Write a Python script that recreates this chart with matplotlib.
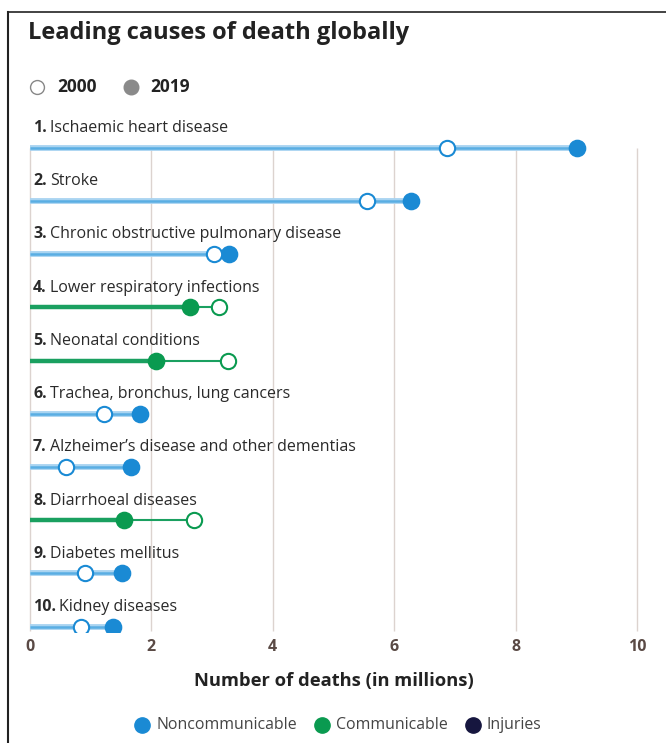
import matplotlib.pyplot as plt
from matplotlib.lines import Line2D
import numpy as np

plt.rcParams['font.family'] = ['Open Sans', 'DejaVu Sans']

causes = ["Ischaemic heart disease", "Stroke",
          "Chronic obstructive pulmonary disease",
          "Lower respiratory infections", "Neonatal conditions",
          "Trachea, bronchus, lung cancers",
          "Alzheimer\u2019s disease and other dementias",
          "Diarrhoeal diseases", "Diabetes mellitus", "Kidney diseases"]
deaths_2000 = [6.87, 5.55, 3.03, 3.11, 3.26, 1.22, 0.59, 2.70, 0.91, 0.84]
deaths_2019 = [9.01, 6.28, 3.28, 2.64, 2.08, 1.81, 1.66, 1.55, 1.52, 1.37]
kind = ["nc", "nc", "nc", "c", "c", "nc", "nc", "c", "nc", "nc"]
xticks = [0, 2, 4, 6, 8, 10]

colors = {"nc": "#1a8ad4", "c": "#0a9a50", "inj": "#16163f"}
line_colors = {"nc": "#5aaee3", "c": "#1aa060"}

fig = plt.figure(figsize=(6.66, 7.43), dpi=100)
ax = fig.add_axes([30/666, 1-632/743, (637-30)/666, (632-129)/743])
ax.set_xlim(0, 10)
ax.set_ylim(9.1, -0.35)

ax.vlines(xticks, 0, 9.08, color="#dcd3cf", lw=1, zorder=0, clip_on=False)

for i in range(len(causes)):
    a, b = deaths_2000[i], deaths_2019[i]
    k = kind[i]
    lo, hi = min(a, b), max(a, b)
    if k == "c":
        ax.plot([0, lo], [i, i], color=line_colors[k], lw=3.2, solid_capstyle="butt", zorder=2)
        ax.plot([lo, hi], [i, i], color=line_colors[k], lw=1.5, zorder=2)
    else:
        ax.plot([0, hi], [i, i], color="#a9d4f1", lw=4.2, solid_capstyle="butt", zorder=1)
        ax.plot([0, hi], [i, i], color=line_colors[k], lw=1.8, solid_capstyle="butt", zorder=2)
    ax.plot(b, i, "o", ms=11.5, mfc=colors[k], mec=colors[k], mew=1.2, zorder=4)
    ax.plot(a, i, "o", ms=11, mfc="white", mec=colors[k], mew=1.5, zorder=4)

for s in ax.spines.values():
    s.set_visible(False)
ax.set_yticks([])
ax.set_xticks(xticks)
ax.set_xticklabels([str(t) for t in xticks], fontsize=11.5, color="#5a4a45", fontweight="bold")
ax.tick_params(axis="x", length=0, pad=5)
ax.set_xlabel("Number of deaths (in millions)", fontsize=13.2, fontweight="bold",
              color="#222222", labelpad=12)

fig.canvas.draw()
renderer = fig.canvas.get_renderer()
for i, name in enumerate(causes):
    t = ax.text(0.05, i - 0.37, f"{i+1}.", fontsize=11.5, fontweight="bold",
                color="#2a2a2a", va="center", ha="left")
    bb = t.get_window_extent(renderer)
    ax.annotate(name, xy=(bb.x1 + 3, bb.y0 + bb.height/2), xycoords="figure pixels",
                fontsize=11.5, color="#2a2a2a", va="center", ha="left")

# title and year legend
fig.text(28/666, 1-33/743, "Leading causes of death globally", fontsize=17,
         fontweight="bold", color="#222222", va="center", ha="left")
fig.add_artist(Line2D([37/666], [1-87/743], marker="o", ms=10, mfc="white",
                      mec="#888888", mew=1, transform=fig.transFigure))
fig.text(57/666, 1-87/743, "2000", fontsize=12.5, fontweight="bold", color="#222222",
         va="center", ha="left")
fig.add_artist(Line2D([131/666], [1-87/743], marker="o", ms=10.5, mfc="#8a8a8a",
                      mec="#8a8a8a", transform=fig.transFigure))
fig.text(150/666, 1-87/743, "2019", fontsize=12.5, fontweight="bold", color="#222222",
         va="center", ha="left")

# category legend
leg = [("Noncommunicable", colors["nc"], 142), ("Communicable", colors["c"], 322),
       ("Injuries", colors["inj"], 473)]
for label, col, x in leg:
    fig.add_artist(Line2D([x/666], [1-725/743], marker="o", ms=11, mfc=col, mec=col,
                          transform=fig.transFigure))
    fig.text((x+14)/666, 1-725/743, label, fontsize=11.4, color="#444444",
             va="center", ha="left")

# frame
fig.add_artist(Line2D([8/666, 8/666], [0, 1-12/743], color="#222222", lw=1.5,
                      transform=fig.transFigure))
fig.add_artist(Line2D([8/666, 1], [1-12/743, 1-12/743], color="#222222", lw=1.2,
                      transform=fig.transFigure))

fig.savefig("out.png", dpi=100, facecolor="white")
